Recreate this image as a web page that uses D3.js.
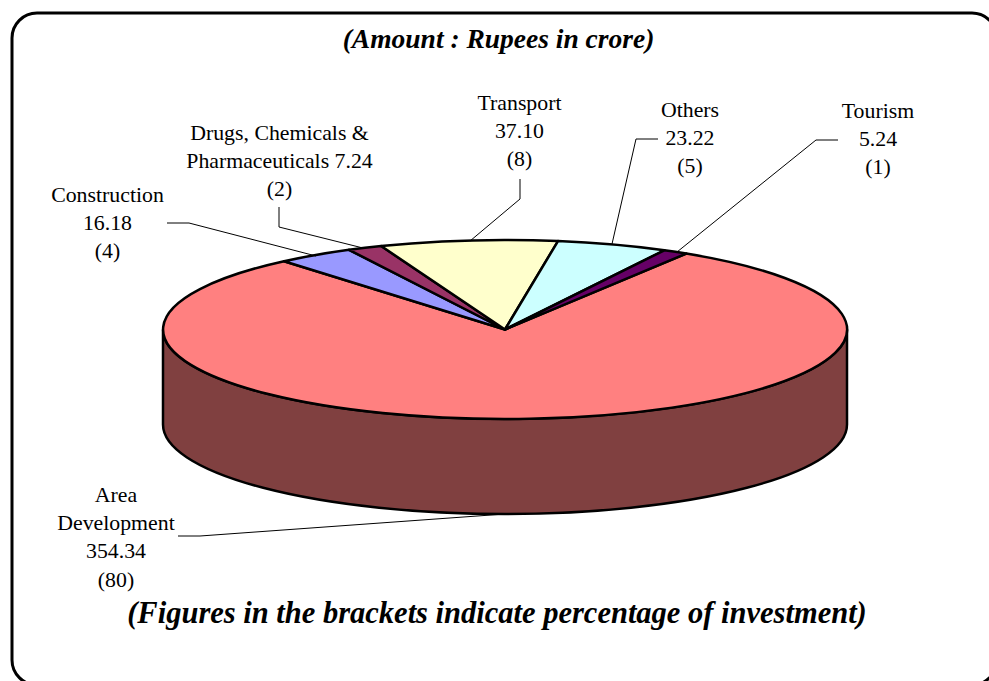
<!DOCTYPE html>
<html>
<head>
<meta charset="UTF-8">
<title>Investment by sector</title>
<script src="https://cdn.jsdelivr.net/npm/d3@7"></script>
<style>
html,body{margin:0;padding:0;background:#fff;overflow:hidden;}
text{font-family:"Liberation Serif",serif;fill:#000;}
.lbl{font-size:21.8px;text-anchor:middle;}
.note{font-weight:bold;font-style:italic;text-anchor:middle;}
</style>
</head>
<body>
<div id="chart"></div>
<script>
var sectors = ["Area Development","Construction","Drugs, Chemicals & Pharmaceuticals","Transport","Others","Tourism"];
var amounts = [354.34,16.18,7.24,37.10,23.22,5.24];
var colors = ["#FF8080","#9999FF","#993366","#FFFFCC","#CCFFFF","#660066"];
var labelLines = [
	["Area","Development","354.34","(80)"],
	["Construction","16.18","(4)"],
	["Drugs, Chemicals &","Pharmaceuticals 7.24","(2)"],
	["Transport","37.10","(8)"],
	["Others","23.22","(5)"],
	["Tourism","5.24","(1)"]
];
var labelPos = [[116,502],[107.5,202],[279.5,140],[519.5,110],[690,117],[878,118]];
// leader lines, from the text to the rim of the pie
var leaders = [
	[[178,536],[200,536],[505,514]],
	[[167,223],[189,223],[316,256]],
	[[279,207],[279,227],[363,248]],
	[[520,179],[520,199],[470,241]],
	[[658,139],[636,139],[612,244]],
	[[838,140],[816,140],[677,252]]
];

var width = 989, height = 681;
var cx = 505, cy = 329.5, rx = 342, ry = 89.5, depth = 95;
var start = 32 * Math.PI / 180;

var svg = d3.select("#chart").append("svg")
	.attr("width", width)
	.attr("height", height)
	.style("display", "block");

// frame, runs off the right and bottom of the picture
svg.append("rect")
	.attr("x", 12).attr("y", 13)
	.attr("width", 985).attr("height", 672)
	.attr("rx", 25).attr("ry", 25)
	.attr("fill", "none")
	.attr("stroke", "#000")
	.attr("stroke-width", 3);

var xp = d3.scaleLinear().domain([-1,1]).range([cx-rx,cx+rx]);
var yp = d3.scaleLinear().domain([-1,1]).range([cy-ry,cy+ry]);

// side wall
var wall = "M" + xp(-1) + "," + yp(0)
	+ "A" + rx + "," + ry + " 0 0 0 " + xp(1) + "," + yp(0)
	+ "V" + (yp(0)+depth)
	+ "A" + rx + "," + ry + " 0 0 1 " + xp(-1) + "," + (yp(0)+depth) + "Z";
svg.append("path")
	.attr("d", wall)
	.attr("fill", "#804040")
	.attr("stroke", "#000")
	.attr("stroke-width", 2.5);

// top face, unit pie squashed into an ellipse
var pie = d3.pie().sort(null).startAngle(start).endAngle(start + 2*Math.PI);
var arc = d3.arc().innerRadius(0).outerRadius(1);
svg.append("g")
	.attr("transform", "translate(" + cx + "," + cy + ") scale(" + rx + "," + ry + ")")
	.selectAll("path")
	.data(pie(amounts))
	.enter().append("path")
	.attr("d", arc)
	.attr("fill", function(d,i){ return colors[i]; })
	.attr("stroke", "#000")
	.attr("stroke-width", 2.5)
	.attr("stroke-linejoin", "round")
	.attr("vector-effect", "non-scaling-stroke");

// leaders
var line = d3.line();
svg.selectAll(".leader")
	.data(leaders)
	.enter().append("path")
	.attr("class", "leader")
	.attr("d", line)
	.attr("fill", "none")
	.attr("stroke", "#000")
	.attr("stroke-width", 1);

// labels
labelLines.forEach(function(lines, i){
	var t = svg.append("text").attr("class", "lbl")
		.attr("x", labelPos[i][0]).attr("y", labelPos[i][1]);
	lines.forEach(function(s, j){
		t.append("tspan")
			.attr("x", labelPos[i][0])
			.attr("dy", j ? 28.2 : 0)
			.text(s);
	});
});

svg.append("text").attr("class","note").attr("x",498.5).attr("y",47.5).style("font-size","27.5px").text("(Amount : Rupees in crore)");
svg.append("text").attr("class","note").attr("x",497).attr("y",623).style("font-size","30.5px").text("(Figures in the brackets indicate percentage of investment)");
</script>
</body>
</html>
